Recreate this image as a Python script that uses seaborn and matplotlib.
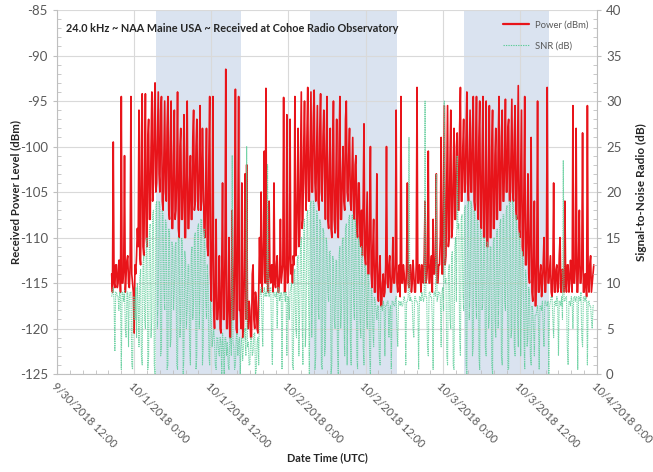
import pandas as pd
import seaborn as sns
import matplotlib.pyplot as plt
import matplotlib.dates as mdates
from matplotlib.lines import Line2D
from matplotlib.ticker import MultipleLocator, FuncFormatter

# === Data: 7.5-min samples, first sample 2018-09-30 20:30 UTC (one row = 3 hours) ===
start_time = "2018-09-30 20:30"
sample_step = "450s"

power_dbm = [
    -114, -116, -99.5, -115, -115.5, -113, -113, -115.5, -115, -112.5, -112.5, -116, -94.5, -115, -115, -113.5, -101, -116, -114, -112.5, -112, -115, -115.5, -113,
    -94.5, -114, -115, -116, -120.5, -113, -114, -112, -109, -111, -96, -112, -113, -100, -94.2, -111, -112, -104, -94.2, -110, -111, -99, -97, -108,
    -108, -100, -94, -106, -104, -97, -93, -105, -104, -99, -94, -103, -105, -96, -94.5, -106, -107, -101, -95, -105, -106, -98, -94.5, -107,
    -108, -99, -95, -109, -109, -101, -96, -108, -107, -103, -94, -109, -110, -100, -98, -108, -108, -104, -96.5, -110, -110, -101, -95, -109,
    -109, -104, -101, -108, -108, -99, -96, -107, -106, -100, -97, -106, -107, -102, -95.5, -107, -106, -98, -103, -109, -110, -105, -98, -111,
    -112, -101, -94.5, -114, -117, -110, -94.5, -118, -120, -115, -108, -119, -119, -117, -112, -120, -120.5, -113, -104, -119, -119, -112, -91.5, -120,
    -120, -117, -110, -121, -121, -116, -107, -119, -119, -112, -93.7, -120, -120.5, -109, -94.5, -118, -118, -120, -104, -121, -120, -113, -103, -119,
    -102, -118, -120, -117, -118, -121, -121, -114, -113, -119, -120, -116, -117, -120, -120.5, -116, -110, -115, -105, -116, -114, -110, -100.5, -115,
    -93.6, -115, -114, -116, -106, -114, -115, -113, -113, -116, -104, -115, -115.5, -113, -112, -116, -116, -114, -108, -115, -114, -113, -94.6, -116,
    -116, -113, -96.5, -115, -114, -112, -97, -114, -113, -115, -112, -113, -94.5, -112, -111, -105, -98, -111, -110, -102, -94, -109, -108, -100,
    -95, -104, -107, -99, -93.5, -106, -106, -100, -94, -105, -105, -97, -93.8, -104, -106, -101, -95.5, -106, -107, -98, -94.2, -105, -106, -99,
    -96, -103, -108, -100, -94.5, -108, -109, -102, -98, -109, -110, -101, -95, -108, -109.5, -104, -97, -109, -110, -100, -94.5, -108, -108, -103,
    -100, -106, -107, -97, -95, -105, -106, -101, -98, -106, -107, -103, -99, -107, -108, -102, -101, -109, -110, -104, -104, -110, -111, -107,
    -112, -106, -97.5, -112, -113, -109, -105, -114, -114, -108, -100, -114, -115.5, -111, -108, -116, -116, -112, -103, -116, -117, -114, -112, -117.5,
    -117.5, -115, -114, -116.5, -116, -113, -100, -115, -115.5, -113, -112, -116, -116, -114, -110, -115, -115, -113, -96, -115, -116, -114, -113, -116.5,
    -94.5, -115, -115, -113, -114, -116, -116, -113, -104, -115, -115.5, -113, -113, -116, -115, -112.5, -114, -116, -116, -113, -93.5, -115, -115, -113,
    -114, -116, -113, -114.5, -115, -112, -106, -115, -114.5, -113, -100.5, -115, -115, -113, -112, -116, -108, -114, -114, -112, -103, -115, -115, -113,
    -113, -110, -99, -114, -114, -105, -95.5, -113, -112, -104, -95.5, -111, -110, -102, -96, -110, -109, -103, -98, -108, -108, -100, -98.5, -107,
    -107, -98, -93.5, -106, -106, -100, -97, -105, -105, -99, -94, -104, -106, -101, -96, -105, -105, -98, -94.5, -106, -107, -100, -94.5, -106,
    -108, -99, -95, -108, -109, -101, -94.5, -110, -110, -103, -95, -111, -111, -102, -95.5, -110, -110, -100, -96, -109, -109, -101, -98, -108,
    -108, -100, -94.5, -107, -107, -99, -96, -106, -106, -101, -94.8, -105, -105, -98, -97, -106, -106, -100, -94.8, -105, -106, -99, -95.5, -107,
    -108, -101, -93.3, -109, -110, -103, -96, -111, -112, -105, -94.5, -113, -113, -109, -103, -114, -115, -108, -99, -116, -117, -112, -106, -117.5,
    -117.5, -112, -95, -116, -116, -114, -113, -116.5, -115, -113, -110, -116, -116, -113, -93.5, -115, -115, -113.5, -112, -116, -116.5, -114, -104, -116,
    -116, -113.5, -113, -116, -115.5, -112, -110, -116, -116, -113.5, -114, -116, -106, -115, -116, -113, -113, -116, -115, -112.5, -114, -116, -95.5, -115,
    -115, -113, -98, -116, -116, -112, -107, -115, -115, -113, -98.5, -116, -116, -114, -114, -116.5, -95.5, -115, -116, -113, -112, -116, -115, -114,
    -113,
]

snr_db = [
    8.5, 9, 9.5, 8, 2.5, 9, 9, 8.5, 8.5, 7, 9, 8.5, 0.5, 9, 8.8, 8, 9.2, 5, 4, 9, 9, 3, 8.5, 9,
    9, 1, 0.5, 8.5, 8.5, 6, 9.5, 4, 10, 8, 3, 10.5, 11.5, 2, 1, 12, 13, 6, 5, 14, 15, 0.5, 2, 16,
    16.5, 4, 6, 17.5, 18, 1, 0, 18.5, 19, 5, 8, 19, 18.5, 2, 3, 18, 17.5, 9, 7, 17, 16.5, 0.5, 1, 16,
    15.5, 3, 4, 14.5, 14, 7, 9, 14, 14.5, 1, 0.5, 15, 15, 4, 6, 15, 14.5, 0, 2, 13.5, 12.5, 5, 7, 12,
    12, 3, 1, 13, 14, 6, 8, 15, 15.5, 0.5, 2, 16, 16.5, 5, 9, 17, 17, 1, 3, 16, 14, 8, 6, 12,
    10, 2, 1, 8, 6, 3, 4, 5, 3.5, 1, 0.5, 4, 4, 2.5, 2, 4, 3.5, 0, 4.5, 3, 0, 4, 4, 2,
    3.5, 1, 0.5, 4, 4, 2, 24, 3.5, 3, 0.5, 1, 4, 4.5, 2, 3.5, 4, 0, 3, 4, 1.5, 3, 4.5, 5, 2,
    25, 3, 3.5, 1, 1, 4, 4, 2, 2.5, 4.5, 4.5, 0, 0.5, 3.5, 4, 1, 8.5, 9, 9.5, 6, 3, 9, 9.5, 8.5,
    9, 8.5, 23, 9, 8.5, 9.5, 9.5, 4, 1, 9, 9, 8.5, 8.5, 9, 5, 9.5, 9.5, 8, 8.5, 9, 0.5, 8.5, 9, 9,
    8, 9, 2, 8.5, 8.5, 6, 9, 9.5, 10, 1, 0.5, 11, 11.5, 5, 4, 12.5, 13, 2, 7, 14, 15, 6, 1, 16,
    17, 3, 5, 17.5, 18, 8, 0, 18.5, 19, 4, 9, 19, 18.5, 0.5, 2, 18, 17.5, 7, 6, 17, 16.5, 1, 0.5, 16,
    15.5, 2, 3, 15, 14, 9, 8, 13.5, 13.5, 0, 1, 13, 12.5, 6, 5, 12.5, 12.5, 3, 0, 13, 14, 5, 7, 14.5,
    15, 6, 2, 16, 16.5, 1, 9, 17, 17.5, 4, 1, 17.5, 17.5, 8, 6, 17, 16, 2, 0.5, 15, 14.5, 6, 4, 14,
    13, 3, 1, 12, 11.5, 7, 5, 11, 10, 2, 0, 9.5, 9, 5, 3, 8.5, 8, 7, 6, 7.5, 7.5, 2, 1, 7.5,
    7.5, 7, 8, 7.5, 2, 7.5, 7.5, 8, 8, 4, 7, 7.5, 0.5, 8, 8, 7.5, 7.5, 8, 8.5, 5, 3, 8, 8, 7.5,
    8, 7.5, 7.5, 8, 8.5, 8, 1, 8, 8, 8.5, 26, 8, 8.5, 8, 8, 5, 4, 8.5, 8.5, 8, 8, 7.5, 0.5, 8.5,
    8.5, 8, 9, 8.5, 8, 8.5, 30, 8.5, 8.5, 3, 2, 9, 9, 8.5, 8.5, 6, 0.5, 9, 9, 8.5, 22, 8, 8.5, 9,
    9, 8.5, 3, 9, 9.5, 7, 30, 10, 10.5, 2, 1, 11, 12, 6, 5, 13, 13.5, 1, 0.5, 14, 15, 8, 24, 16,
    16.5, 4, 2, 17, 17.5, 9, 7, 18, 18.5, 1, 0, 18.5, 19, 6, 9, 19, 18.5, 2, 3, 18, 17.5, 8, 6, 17,
    16.5, 2, 0.5, 16, 15.5, 7, 8, 15, 15, 3, 2, 14.5, 14.5, 5, 6, 14, 14, 1, 0, 14.5, 15, 6, 4, 15.5,
    16, 5, 9, 16.5, 17, 2, 1, 17.5, 17.5, 8, 7, 18, 18.5, 0.5, 0.5, 19, 19, 4, 5, 19, 18.5, 3, 2, 17.5,
    16.5, 6, 3, 15.5, 14.5, 2, 8, 13.5, 12.5, 4, 0.5, 11.5, 10.5, 3, 4, 9.5, 8.5, 2, 1, 7.5, 7, 5, 2, 6.5,
    6.5, 7, 7.5, 6, 0.5, 7.5, 7.5, 7, 8, 5, 3, 8, 8, 7.5, 7.5, 8, 0, 7.5, 8, 8.5, 8.5, 6, 4, 8,
    8, 7.5, 8.5, 8, 2, 8, 8, 7.5, 8.5, 6, 23.5, 8, 8, 8.5, 8.5, 3, 1, 8, 8, 7.5, 8.5, 8, 5, 8.5,
    8.5, 8, 8.5, 8.5, 0.5, 8.5, 8.5, 8, 9, 4, 3, 8.5, 8.5, 8, 8.5, 8, 1, 8, 8, 7.5, 7.5, 6, 5, 7.5,
    7.5,
]

# daylight on the path (shaded)
daylight_start = ["2018-10-01 03:20", "2018-10-02 03:20", "2018-10-03 03:15"]
daylight_end = ["2018-10-01 16:40", "2018-10-02 16:50", "2018-10-03 16:35"]

times = pd.date_range(start_time, periods=len(power_dbm), freq=sample_step)
df = pd.DataFrame({"time": times, "power": power_dbm, "snr": snr_db})

# === Style ===
sns.set_style("white")
plt.rcParams["font.family"] = ["Lato", "DejaVu Sans"]
plt.rcParams["axes.unicode_minus"] = False
text_grey = "#595959"
red = "#e8141a"
green = "#5ccc98"

fig = plt.figure(figsize=(6.53, 4.72), dpi=100)
ax = fig.add_axes([0.0873, 0.2076, 0.827, 0.771])
ax2 = ax.twinx()

for s, e in zip(daylight_start, daylight_end):
    ax.axvspan(pd.Timestamp(s), pd.Timestamp(e), color="#dae3f0", lw=0, zorder=0)

sns.lineplot(data=df, x="time", y="power", ax=ax, color=red, lw=1.2, zorder=2)
sns.lineplot(data=df, x="time", y="snr", ax=ax2, color=green, lw=0.8,
             linestyle=(0, (1.2, 0.8)), alpha=0.85)

# === Axes ===
ax.set_xlim(pd.Timestamp("2018-09-30 12:00"), pd.Timestamp("2018-10-04 00:00"))
ax.set_ylim(-125, -85)
ax2.set_ylim(0, 40)
for a in (ax, ax2):
    a.yaxis.set_major_locator(MultipleLocator(5))
    a.yaxis.set_minor_locator(MultipleLocator(1))
ax.xaxis.set_major_locator(mdates.HourLocator(byhour=[0, 12]))
ax.xaxis.set_minor_locator(mdates.HourLocator(byhour=range(0, 24, 2)))


def fmt_date(x, pos):
    d = mdates.num2date(x)
    return f"{d.month}/{d.day}/{d.year} {d.hour}:{d.minute:02d}"


ax.xaxis.set_major_formatter(FuncFormatter(fmt_date))

ax.set_axisbelow(True)
ax.grid(True, which="major", color="#d9d9d9", lw=0.8)
for a in (ax, ax2):
    a.spines["top"].set_visible(False)
    for side in ("left", "right", "bottom"):
        a.spines[side].set_color("#bfbfbf")
ax.spines["right"].set_visible(False)
ax2.spines["left"].set_visible(False)
ax2.spines["bottom"].set_visible(False)

ax.tick_params(axis="y", which="major", direction="out", length=3, color="#bfbfbf",
               labelsize=9.5, labelcolor=text_grey)
ax.tick_params(axis="y", which="minor", direction="in", length=3, color="#bfbfbf", left=True)
ax2.tick_params(axis="y", which="major", direction="out", length=3, color="#bfbfbf",
                labelsize=9.5, labelcolor=text_grey)
ax2.tick_params(axis="y", which="minor", direction="in", length=3, color="#bfbfbf", right=True)
ax.tick_params(axis="x", which="major", direction="out", length=3, color="#bfbfbf",
               labelsize=8, labelcolor=text_grey, pad=2)
ax.tick_params(axis="x", which="minor", direction="in", length=3, color="#bfbfbf", bottom=True)
for lab in ax.get_xticklabels():
    lab.set_rotation(-45)
    lab.set_ha("left")
    lab.set_va("top")
    lab.set_rotation_mode("anchor")

ax.set_xlabel("Date Time (UTC)", fontsize=7.8, fontweight="bold", color="#262626")
ax.xaxis.set_label_coords(0.5, -0.215)
ax.set_ylabel("Received Power Level (dBm)", fontsize=8.2, fontweight="bold", color="#262626")
ax.yaxis.set_label_coords(-0.067, 0.5)
ax2.set_ylabel("Signal-to-Noise Radio (dB)", fontsize=8.5, fontweight="bold", color="#262626", labelpad=10)

ax.text(0.017, 0.965, "24.0 kHz ~ NAA Maine USA ~ Received at Cohoe Radio Observatory",
        transform=ax.transAxes, fontsize=7.8, fontweight="bold", color="#262626", va="top")

handles = [Line2D([], [], color=red, lw=1.6),
           Line2D([], [], color=green, lw=0.8, linestyle=(0, (1.2, 1.0)))]
ax2.legend(handles, ["Power (dBm)", "SNR (dB)"], loc="upper right", frameon=False,
           fontsize=6.8, labelcolor=text_grey, handlelength=2.8, labelspacing=1.3,
           handletextpad=0.6, bbox_to_anchor=(1.0, 0.995))

fig.savefig("out.png", dpi=100)
